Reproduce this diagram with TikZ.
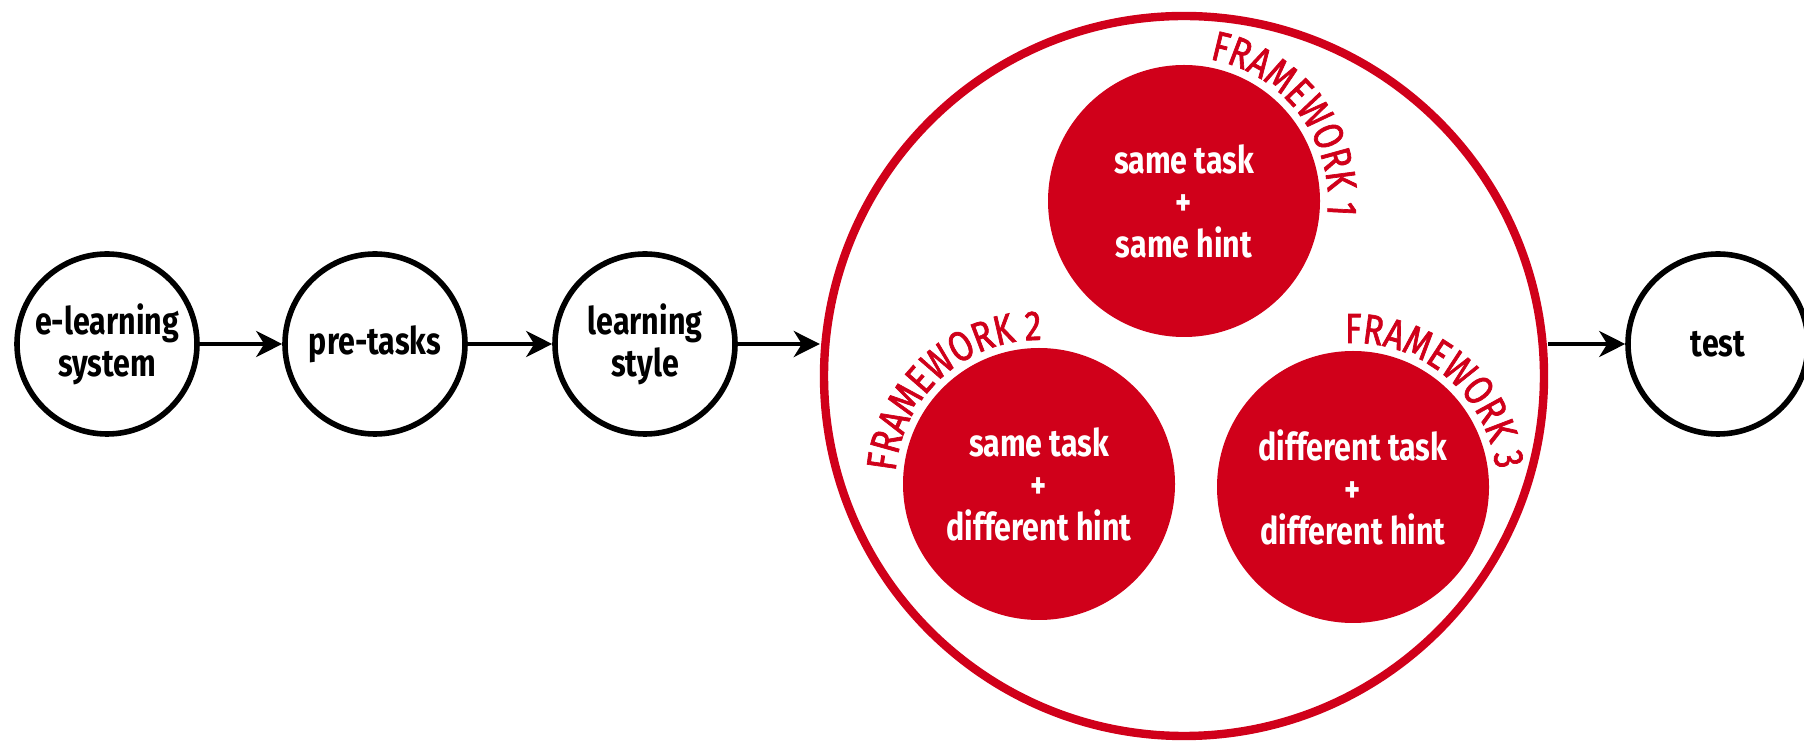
\documentclass[tikz,border=0pt]{standalone}
\usepackage{fontspec}
\newfontfamily\labfont[FakeStretch=0.8]{Fira Sans}
\newfontfamily\fwfamily[FakeStretch=0.8,FakeBold=1.6]{Fira Sans}
\usetikzlibrary{arrows.meta,calc,decorations.text}
\definecolor{fwred}{RGB}{208,0,26}
\newcommand\fwfont{\fwfamily\fontsize{21}{23}\selectfont}
\newcommand\nodefont{\labfont\bfseries\fontsize{19}{21}\selectfont}
\begin{document}
\begin{tikzpicture}[x=0.5pt,y=0.5pt,
  stepnode/.style={circle, draw=black, line width=2.8pt, minimum size=90pt, inner sep=0pt, align=center, font=\nodefont},
  fwnode/.style={circle, fill=fwred, minimum size=136pt, inner sep=0pt, align=center, text=white, font=\nodefont},
  bignode/.style={circle, draw=fwred, line width=4.2pt, minimum size=360pt, inner sep=0pt},
  flow/.style={-{Stealth[length=13pt,width=13pt,inset=4pt]}, line width=2pt},
  fwlabel/.style={decorate, decoration={text along path, text align=center, text color=fwred, text={|\fwfont|#1}}}
]
\useasboundingbox (0,0) rectangle (1804,744);
% flow nodes
\node[stepnode] (e) at (107,400) {e-learning\\system};
\node[stepnode] (p) at (375,400) {pre-tasks};
\node[stepnode] (l) at (645,400) {learning\\style};
\node[stepnode] (t) at (1718,400) {test};
% framework circle
\node[bignode] (big) at (1184,368) {};
\node[fwnode] (f1) at (1184,543) {same task\\+\\same hint};
\node[fwnode] (f2) at (1039,260) {same task\\+\\different hint};
\node[fwnode] (f3) at (1353,257) {different task\\+\\different hint};
% curved labels
\path[fwlabel={FRAMEWORK 1}] ($(f1)+(97:144)$) arc[start angle=97, end angle=-23, radius=144];
\path[fwlabel={FRAMEWORK 2}] ($(f2)+(192:144)$) arc[start angle=192, end angle=72, radius=144];
\path[fwlabel={FRAMEWORK 3}] ($(f3)+(110:144)$) arc[start angle=110, end angle=-10, radius=144];
% connectors
\draw[flow] (e) -- (p);
\draw[flow] (p) -- (l);
\draw[flow] (l) -- (l -| big.west);
\draw[flow] (t -| big.east) -- (t);
\end{tikzpicture}
\end{document}
